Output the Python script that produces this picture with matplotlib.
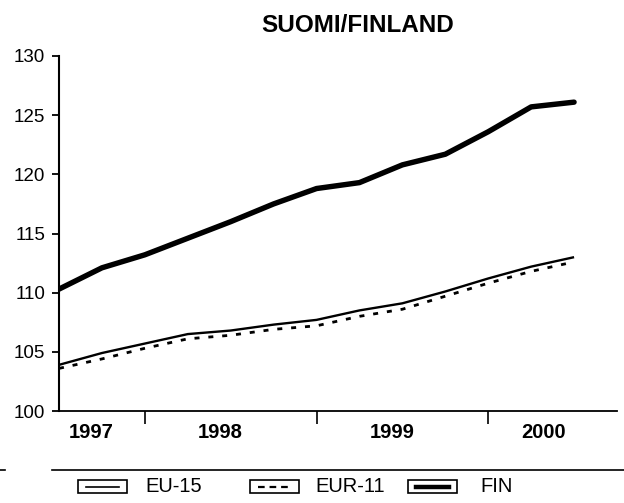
import matplotlib
matplotlib.use("Agg")
import matplotlib.pyplot as plt
from matplotlib.lines import Line2D
from matplotlib.patches import Rectangle

plt.rcParams['font.family'] = ['Liberation Sans', 'DejaVu Sans']

# ---- data (quarterly, Q3 1997 .. Q3 2000) ----
quarters = [1997.5, 1997.75, 1998.0, 1998.25, 1998.5, 1998.75, 1999.0,
            1999.25, 1999.5, 1999.75, 2000.0, 2000.25, 2000.5]
eu15 = [103.9, 104.9, 105.7, 106.5, 106.8, 107.3, 107.7,
        108.5, 109.1, 110.1, 111.2, 112.2, 113.0]
eur11 = [103.6, 104.4, 105.3, 106.1, 106.4, 106.9, 107.2,
         108.0, 108.6, 109.7, 110.8, 111.8, 112.6]
fin = [110.3, 112.1, 113.2, 114.6, 116.0, 117.5, 118.8,
       119.3, 120.8, 121.7, 123.6, 125.7, 126.1]
year_bounds = [1998, 1999, 2000]
year_label_pos = [1997.69, 1998.44, 1999.44, 2000.32]
year_labels = ['1997', '1998', '1999', '2000']
yticks = [100, 105, 110, 115, 120, 125, 130]
series_names = ['EU-15', 'EUR-11', 'FIN']
title = 'SUOMI/FINLAND'

W, H = 624, 503
fig = plt.figure(figsize=(W / 100, H / 100), dpi=100)
ax = fig.add_axes([59 / W, 1 - 411 / H, (617 - 59) / W, (411 - 56) / H])

ax.plot(quarters, eu15, color='black', lw=1.7, solid_capstyle='butt')
ax.plot(quarters, eur11, color='black', lw=2.0, dashes=(1.8, 3.2))
ax.plot(quarters, fin, color='black', lw=3.9, solid_capstyle='round')

ax.set_xlim(1997.5, 2000.75)
ax.set_ylim(100, 130)
ax.set_yticks(yticks)
ax.tick_params(axis='y', direction='out', length=5, width=1.3, pad=5,
               labelsize=13.5)
ax.set_xticks(year_bounds)
ax.set_xticklabels([])
ax.tick_params(axis='x', which='major', direction='out', length=9, width=1.2)
ax.set_xticks(year_label_pos, minor=True)
ax.set_xticklabels(year_labels, minor=True, fontweight='bold', fontsize=14.5)
ax.tick_params(axis='x', which='minor', length=0, pad=9)

for s in ['top', 'right']:
    ax.spines[s].set_visible(False)
ax.spines['left'].set_linewidth(1.5)
ax.spines['bottom'].set_linewidth(1.3)

fig.text(358 / W, 1 - 32 / H, title, ha='center', va='baseline',
         fontsize=17.5, fontweight='bold')

def fx(px):
    return px / W

def fy(py):
    return 1 - py / H

# separator line
fig.add_artist(Line2D([fx(52), fx(624)], [fy(470), fy(470)], color='black', lw=1.2))
fig.add_artist(Line2D([fx(0), fx(5)], [fy(470), fy(470)], color='black', lw=1.2))

# legend
box_x = [78, 250, 408]
text_x = [145, 315, 480]
styles = [dict(lw=1.2), dict(lw=1.6, dashes=(3, 2.2)), dict(lw=3.2)]
for bx, tx, name, st in zip(box_x, text_x, series_names, styles):
    fig.add_artist(Rectangle((fx(bx), fy(493)), 49 / W, 13 / H,
                             fill=False, ec='black', lw=1.2,
                             transform=fig.transFigure))
    fig.add_artist(Line2D([fx(bx + 8), fx(bx + 41)], [fy(486.5), fy(486.5)],
                          color='black', **st))
    fig.text(fx(tx), fy(486.5), name, ha='left', va='center', fontsize=14.5)

fig.savefig('out.png', dpi=100)
